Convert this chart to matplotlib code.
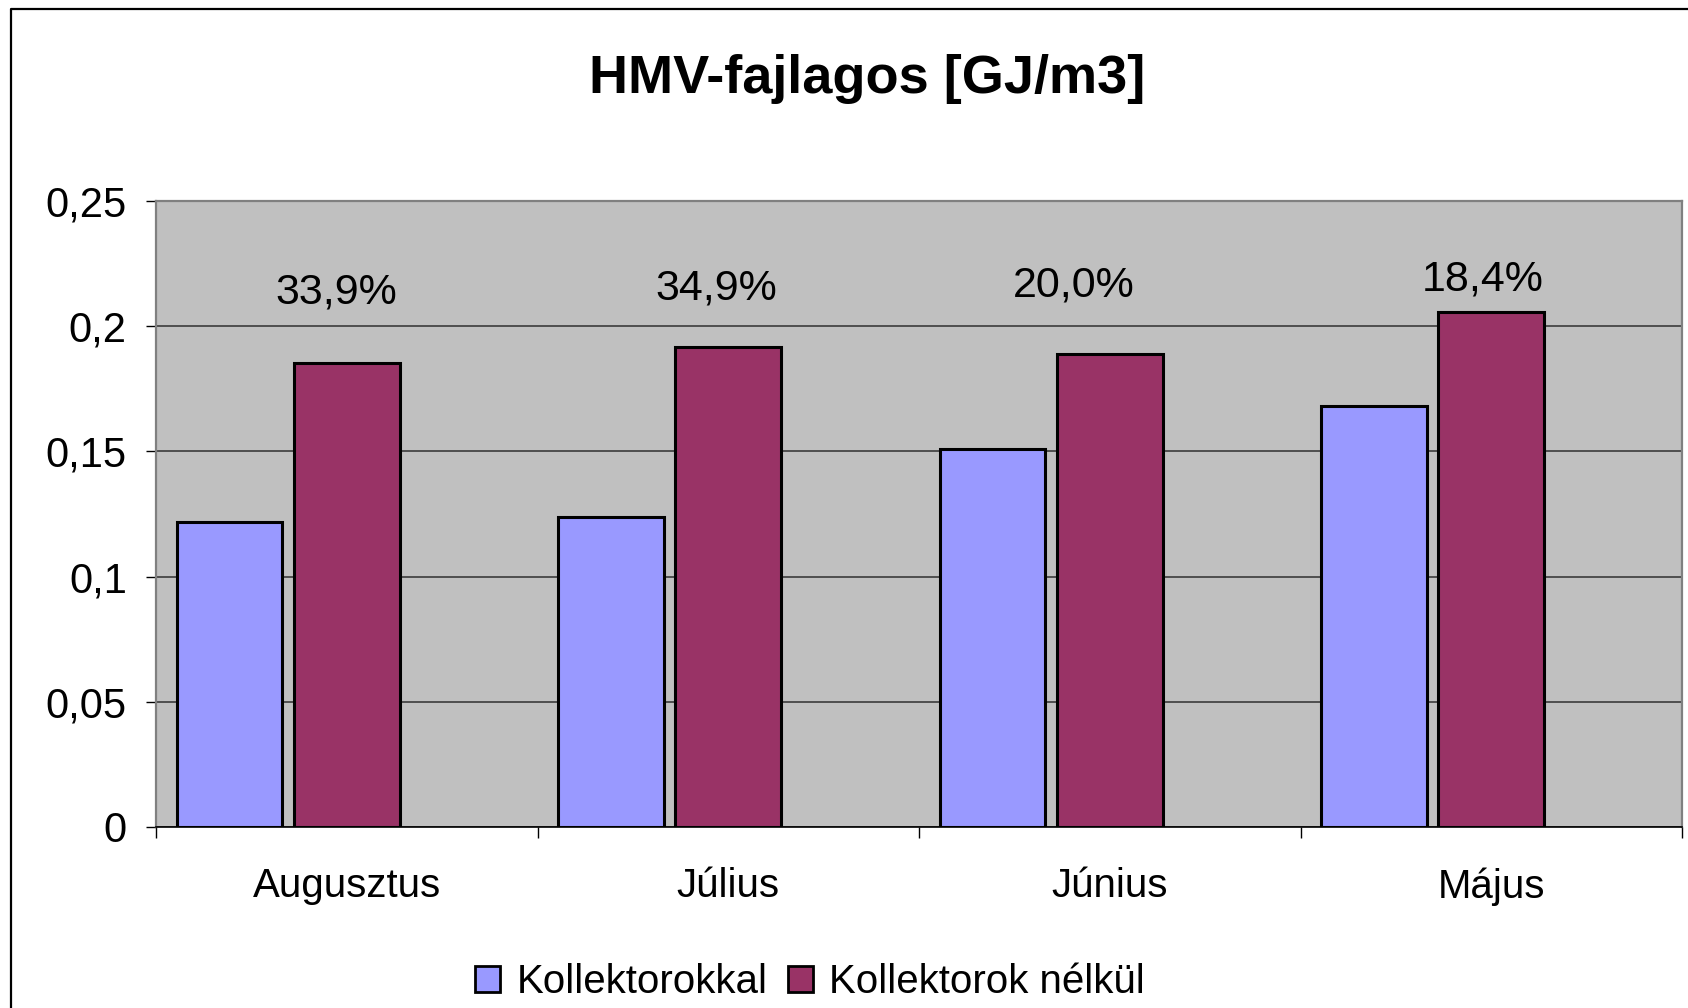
import matplotlib
matplotlib.use("Agg")
import matplotlib.pyplot as plt
from matplotlib.lines import Line2D
from matplotlib.patches import Patch
import numpy as np

plt.rcParams['font.family'] = ['Liberation Sans', 'DejaVu Sans']

# ---- data ----
categories = ["Augusztus", "Július", "Június", "Május"]
series_names = ["Kollektorokkal", "Kollektorok nélkül"]
kollektorokkal = [0.122, 0.124, 0.151, 0.168]
nelkul = [0.1855, 0.1915, 0.189, 0.2055]
pct_labels = ["33,9%", "34,9%", "20,0%", "18,4%"]
yticks = [0, 0.05, 0.1, 0.15, 0.2, 0.25]
ytick_labels = ["0", "0,05", "0,1", "0,15", "0,2", "0,25"]
title = "HMV-fajlagos [GJ/m3]"

# ---- style / layout ----
c_blue = "#9999FF"
c_red = "#993366"
c_bg = "#C0C0C0"
slot = 1 / 3.25
bar_w = 0.9 * slot
pct_dx = [-0.028, -0.031, -0.095, -0.023]
pct_y = [0.2134, 0.2151, 0.2164, 0.2186]

W, H = 1688, 1008
fig = plt.figure(figsize=(W / 100, H / 100), dpi=100)
fig.patch.set_facecolor("white")
ax = fig.add_axes([156 / W, 1 - 827 / H, (1682 - 156) / W, (827 - 201) / H])
ax.set_facecolor(c_bg)

x = np.arange(len(categories))
ax.bar(x - slot, kollektorokkal, width=bar_w, color=c_blue, edgecolor="black",
       linewidth=2.2, zorder=3)
ax.bar(x, nelkul, width=bar_w, color=c_red, edgecolor="black",
       linewidth=2.2, zorder=3)

for i, lab in enumerate(pct_labels):
    ax.text(x[i] + pct_dx[i], pct_y[i], lab, ha="center", va="center",
            fontsize=31, color="black", zorder=4)

ax.set_xlim(-0.5, len(categories) - 0.5)
ax.set_ylim(0, 0.25)
ax.set_yticks(yticks)
ax.set_yticklabels(ytick_labels)
ax.yaxis.grid(True, color="#303030", linewidth=1.1, zorder=1)
ax.set_axisbelow(True)
ax.tick_params(axis="y", direction="out", length=7, width=1, color="black",
               labelsize=30, pad=14)

ax.set_xticks(x)
ax.set_xticklabels(categories)
ax.set_xticks(np.arange(-0.5, len(categories)), minor=True)
ax.tick_params(axis="x", which="major", length=0, labelsize=29, pad=29)
ax.tick_params(axis="x", which="minor", direction="out", length=8, width=1,
               color="black")

for s in ["left", "top", "right"]:
    ax.spines[s].set_color("#808080")
    ax.spines[s].set_linewidth(1.6)
ax.spines["bottom"].set_color("black")
ax.spines["bottom"].set_linewidth(1.2)

fig.text(867 / W, 1 - 79 / H, title, ha="center", va="center",
         fontsize=39, fontweight="bold")

handles = [Patch(facecolor=c_blue, edgecolor="black", linewidth=2.0),
           Patch(facecolor=c_red, edgecolor="black", linewidth=2.0)]
fig.legend(handles, series_names, loc="center", bbox_to_anchor=(810 / W, 1 - 982 / H),
           ncol=2, frameon=False, fontsize=29, handlelength=0.62, handleheight=0.62,
           handletextpad=0.4, columnspacing=0.5, borderaxespad=0, borderpad=0)

# outer chart-area border (left and top visible)
fig.add_artist(Line2D([11 / W, 11 / W, 1.0], [0.0, 1 - 9 / H, 1 - 9 / H],
                      transform=fig.transFigure, color="black", linewidth=1.6))

fig.savefig("out.png", dpi=100)
